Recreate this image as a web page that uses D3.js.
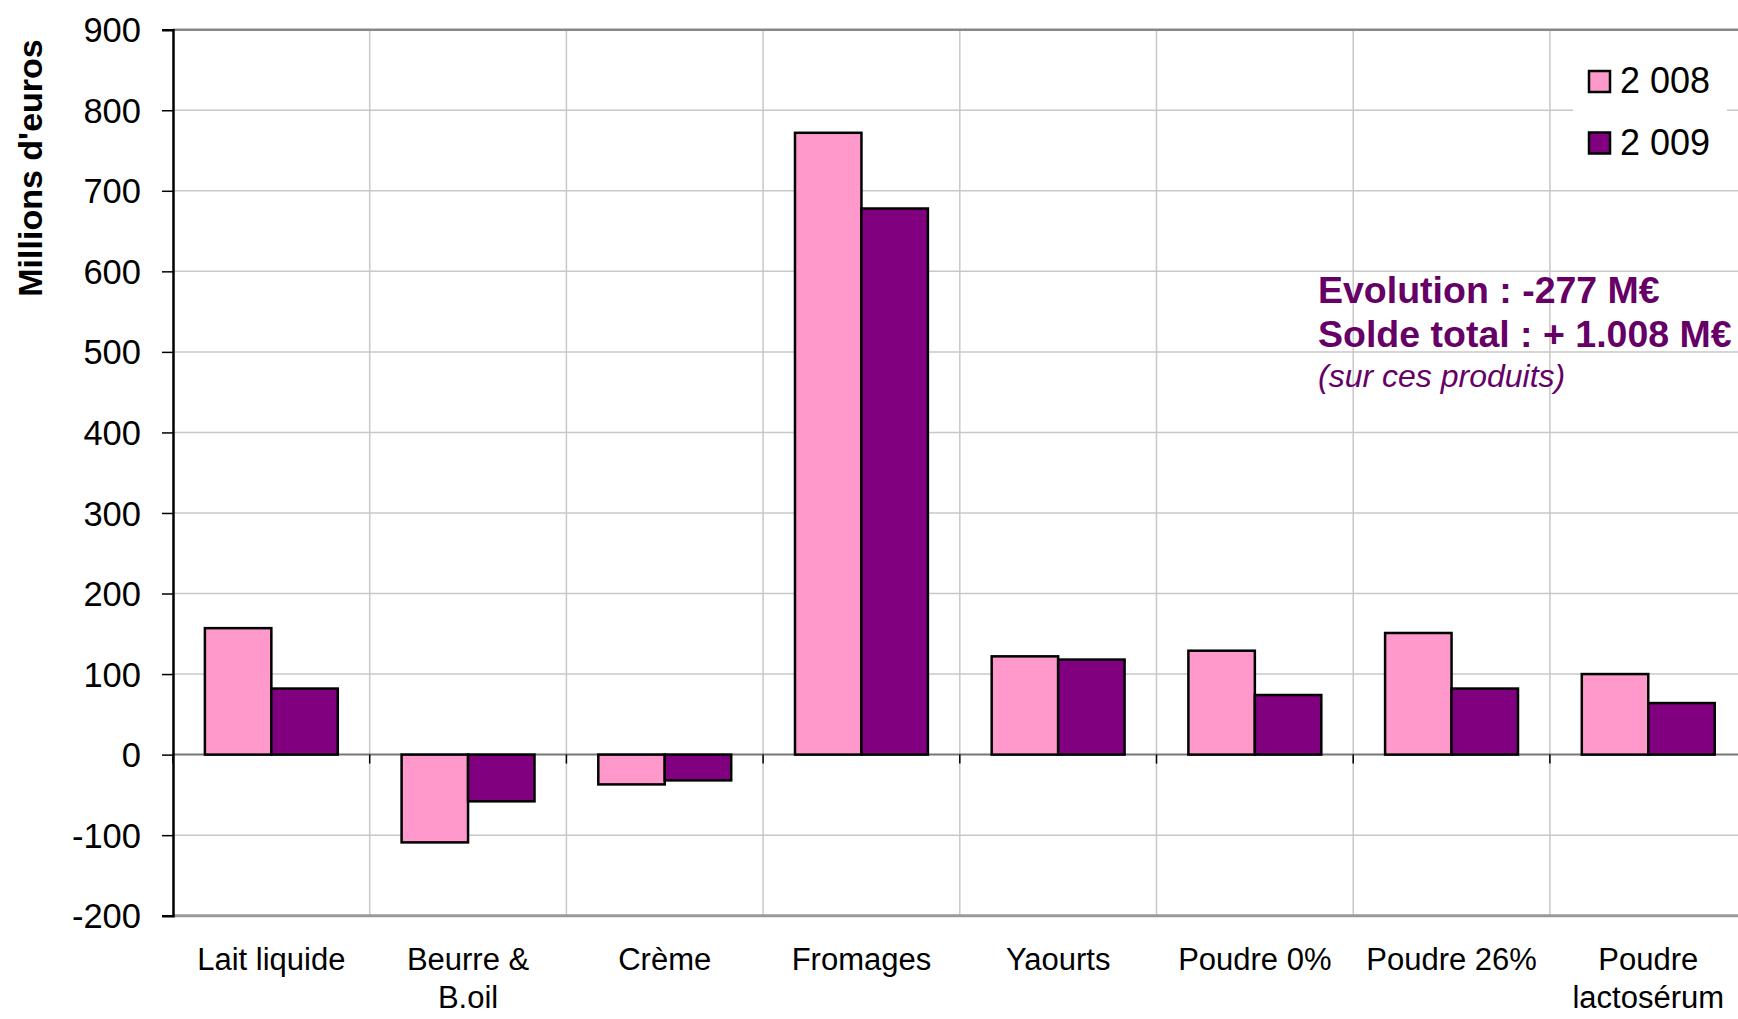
<!DOCTYPE html>
<html>
<head>
<meta charset="utf-8">
<script src="https://cdn.jsdelivr.net/npm/d3@7"></script>
<style>
  html, body { margin: 0; padding: 0; background: #fff; }
  svg { display: block; }
  svg text { font-family: "Liberation Sans", Arial, sans-serif; }
</style>
</head>
<body>
<svg id="chart" width="1738" height="1019"></svg>
<script>
const categories = ["Lait liquide", "Beurre &\nB.oil", "Crème", "Fromages", "Yaourts", "Poudre 0%", "Poudre 26%", "Poudre\nlactosérum"];
const seriesNames = ["2 008", "2 009"];
const values2008 = [157, -109, -37, 772, 122, 129, 151, 100];
const values2009 = [82, -58, -32, 678, 118, 74, 82, 64];
const yTicks = [-200, -100, 0, 100, 200, 300, 400, 500, 600, 700, 800, 900];
const seriesColors = ["#FF99CC", "#800080"];
const yTitle = "Millions d'euros";
const noteLines = ["Evolution : -277 M€", "Solde total : + 1.008 M€", "(sur ces produits)"];

(function () {
const FONT = "'Liberation Sans', Arial, sans-serif";
const svg = d3.select("#chart");
const pLeft = 173, catW = 196.7, pTop = 29.7, pBottom = 915.7;
const pRight = pLeft + categories.length * catW;

const x = d3.scaleBand().domain(categories).range([pLeft, pRight]).paddingInner(0).paddingOuter(0);
const xs = d3.scaleBand().domain(seriesNames).range([0, x.bandwidth()]).paddingInner(0).paddingOuter(0.48);
const y = d3.scaleLinear().domain([-200, 900]).range([pBottom, pTop]);

const data = categories.map((c, i) => ({cat: c, vals: [values2008[i], values2009[i]]}));

// horizontal gridlines
svg.append("g").selectAll("line").data(yTicks.filter(t => t !== -200 && t !== 900 && t !== 0)).join("line")
  .attr("x1", pLeft).attr("x2", pRight).attr("y1", d => y(d)).attr("y2", d => y(d))
  .attr("stroke", "#c8c8c8").attr("stroke-width", 1.5);

// vertical gridlines
svg.append("g").selectAll("line").data(categories.slice(1)).join("line")
  .attr("x1", d => x(d)).attr("x2", d => x(d)).attr("y1", pTop).attr("y2", pBottom)
  .attr("stroke", "#c8c8c8").attr("stroke-width", 1.5);

// top and bottom border
svg.append("line").attr("x1", pLeft).attr("x2", pRight).attr("y1", y(900)).attr("y2", y(900))
  .attr("stroke", "#888").attr("stroke-width", 2.5);
svg.append("line").attr("x1", pLeft).attr("x2", pRight).attr("y1", y(-200)).attr("y2", y(-200))
  .attr("stroke", "#999").attr("stroke-width", 3);

// legend background
const legendG = svg.append("g");
legendG.append("rect").attr("x", 1573).attr("y", 52).attr("width", 154).attr("height", 118).attr("fill", "#fff");

// zero line
svg.append("line").attr("x1", pLeft).attr("x2", pRight).attr("y1", y(0)).attr("y2", y(0))
  .attr("stroke", "#777").attr("stroke-width", 2);

// x ticks at category boundaries
svg.append("g").selectAll("line").data(categories).join("line")
  .attr("x1", d => x(d)).attr("x2", d => x(d)).attr("y1", y(0)).attr("y2", y(0) + 9)
  .attr("stroke", "#000").attr("stroke-width", 1.5);

// bars
const groups = svg.append("g").selectAll("g").data(data).join("g")
  .attr("transform", d => `translate(${x(d.cat)},0)`);
groups.selectAll("rect").data(d => d.vals.map((v, i) => ({v, s: seriesNames[i], i}))).join("rect")
  .attr("x", d => xs(d.s))
  .attr("width", xs.bandwidth())
  .attr("y", d => y(Math.max(0, d.v)))
  .attr("height", d => Math.abs(y(d.v) - y(0)))
  .attr("fill", d => seriesColors[d.i])
  .attr("stroke", "#000").attr("stroke-width", 2.5);

// y axis
const yAxis = d3.axisLeft(y).tickValues(yTicks).tickSize(11).tickPadding(21).tickFormat(d => String(d));
const yg = svg.append("g").attr("transform", `translate(${pLeft},0)`).call(yAxis);
yg.attr("font-family", FONT);
yg.select(".domain").attr("stroke", "#000").attr("stroke-width", 2.5);
yg.selectAll(".tick line").attr("stroke", "#000").attr("stroke-width", 1.5);
yg.selectAll(".tick text").attr("font-size", 34.5).attr("fill", "#000")
  .attr("font-family", FONT).attr("dy", "0.35em");

// category labels
const labG = svg.append("g");
categories.forEach(c => {
  const lines = c.split("\n");
  const t = labG.append("text").attr("x", x(c) + x.bandwidth() / 2).attr("y", 970)
    .attr("text-anchor", "middle").attr("font-size", 31).attr("fill", "#000").attr("font-family", FONT);
  lines.forEach((ln, i) => {
    t.append("tspan").attr("x", x(c) + x.bandwidth() / 2).attr("y", 970 + i * 38).text(ln);
  });
});

// y title
svg.append("text").attr("transform", "translate(42,168) rotate(-90)")
  .attr("text-anchor", "middle").attr("font-size", 34).attr("font-weight", "bold").attr("fill", "#000")
  .attr("font-family", FONT).text(yTitle);

// legend
seriesNames.forEach((s, i) => {
  const cy = 81.5 + i * 61.5;
  legendG.append("rect").attr("x", 1589).attr("y", cy - 10.5).attr("width", 21).attr("height", 21)
    .attr("fill", seriesColors[i]).attr("stroke", "#000").attr("stroke-width", 2.5);
  legendG.append("text").attr("x", 1620).attr("y", cy + 11.5).attr("font-size", 36).attr("fill", "#000")
    .attr("font-family", FONT).text(s);
});

// note
const noteColor = "#660066";
svg.append("text").attr("x", 1318).attr("y", 303).attr("font-size", 37.5).attr("font-weight", "bold")
  .attr("fill", noteColor).attr("font-family", FONT).text(noteLines[0]);
svg.append("text").attr("x", 1318).attr("y", 347).attr("font-size", 37.5).attr("font-weight", "bold")
  .attr("fill", noteColor).attr("font-family", FONT).text(noteLines[1]);
svg.append("text").attr("x", 1318).attr("y", 387).attr("font-size", 32).attr("font-style", "italic")
  .attr("fill", noteColor).attr("font-family", FONT).text(noteLines[2]);
})();
</script>
</body>
</html>
